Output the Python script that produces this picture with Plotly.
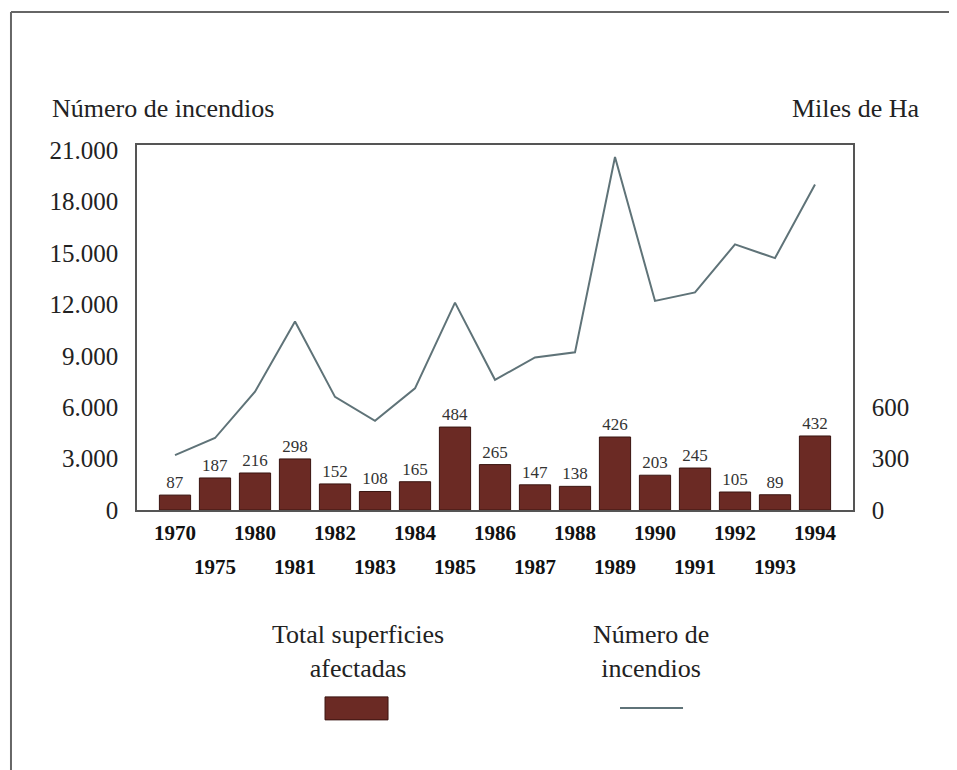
import plotly.graph_objects as go

# Datos
years = ['1970', '1975', '1980', '1981', '1982', '1983', '1984', '1985', '1986',
         '1987', '1988', '1989', '1990', '1991', '1992', '1993', '1994']
superficie = [87, 187, 216, 298, 152, 108, 165, 484, 265, 147, 138, 426, 203, 245, 105, 89, 432]
incendios = [3200, 4200, 6900, 11000, 6600, 5200, 7100, 12100, 7600, 8900, 9200,
             20600, 12200, 12700, 15500, 14700, 19000]
left_ticks = [0, 3000, 6000, 9000, 12000, 15000, 18000, 21000]
right_ticks = [0, 300, 600]

SERIF = 'Liberation Serif'
BAR_COLOR = '#6b2a24'
LINE_COLOR = '#5f7378'
AXIS_COLOR = '#555555'

idx = list(range(len(years)))
even_idx = idx[0::2]
odd_idx = idx[1::2]

fig = go.Figure()

# Barras: superficie afectada (eje y a la derecha)
fig.add_trace(go.Bar(
    x=idx, y=superficie, xaxis='x', yaxis='y',
    marker=dict(color=BAR_COLOR, line=dict(color='#3a1410', width=1)),
    width=0.78,
    text=superficie, textposition='outside',
    textfont=dict(family=SERIF, size=17, color='#333333'),
    cliponaxis=False, showlegend=False,
))

# Línea: número de incendios (eje y2 a la izquierda, eje x2 para la 2a fila de años)
fig.add_trace(go.Scatter(
    x=idx, y=incendios, xaxis='x2', yaxis='y2',
    mode='lines', line=dict(color=LINE_COLOR, width=2),
    showlegend=False,
))

x_range = [-0.95, len(years) - 1 + 0.95]
tick_font = dict(family=SERIF, size=21, color='#111111')

fig.update_layout(
    width=957, height=770,
    margin=dict(l=129, r=112, t=137, b=268),
    paper_bgcolor='white', plot_bgcolor='white',
    separators=',.',
    font=dict(family=SERIF, color='#222222'),
    xaxis=dict(
        range=x_range, tickvals=even_idx,
        ticktext=['<b>' + years[i] + '</b>' for i in even_idx],
        tickfont=tick_font,
        ticks='', showgrid=False, zeroline=False,
        showline=True, linecolor=AXIS_COLOR, linewidth=1.5, mirror=True,
        ticklabelstandoff=3,
    ),
    xaxis2=dict(
        range=x_range, overlaying='x', anchor='y2', side='bottom',
        tickvals=odd_idx, ticktext=['<b>' + years[i] + '</b>' for i in odd_idx],
        tickfont=tick_font,
        ticks='', showgrid=False, zeroline=False, showline=False,
        ticklabelstandoff=42,
    ),
    yaxis=dict(
        range=[0, 2130], tickvals=right_ticks, side='right', anchor='x',
        tickfont=dict(family=SERIF, size=25),
        ticks='', showgrid=False, zeroline=False,
        showline=True, linecolor=AXIS_COLOR, linewidth=1.5,
        ticklabelstandoff=12,
    ),
    yaxis2=dict(
        range=[0, 21300], tickvals=left_ticks, tickformat=',d',
        overlaying='y', side='left', anchor='x2',
        tickfont=dict(family=SERIF, size=25),
        ticks='', showgrid=False, zeroline=False,
        showline=True, linecolor=AXIS_COLOR, linewidth=1.5,
        ticklabelstandoff=12,
    ),
)

# Títulos de ejes
fig.add_annotation(text='Número de incendios', xref='paper', yref='paper',
                   x=-0.1215, y=1.101, xanchor='left', yanchor='middle',
                   showarrow=False, font=dict(family=SERIF, size=26))
fig.add_annotation(text='Miles de Ha', xref='paper', yref='paper',
                   x=1.096, y=1.101, xanchor='right', yanchor='middle',
                   showarrow=False, font=dict(family=SERIF, size=26))

# Leyenda manual (texto encima del símbolo)
fig.add_annotation(text='Total superficies<br>afectadas', xref='paper', yref='paper',
                   x=0.3087, y=-0.389, xanchor='center', yanchor='middle',
                   showarrow=False, font=dict(family=SERIF, size=26))
fig.add_annotation(text='Número de<br>incendios', xref='paper', yref='paper',
                   x=0.718, y=-0.389, xanchor='center', yanchor='middle',
                   showarrow=False, font=dict(family=SERIF, size=26))
fig.add_shape(type='rect', xref='paper', yref='paper',
              x0=0.2626, x1=0.3506, y0=-0.575, y1=-0.512,
              fillcolor=BAR_COLOR, line=dict(color='#3a1410', width=1))
fig.add_shape(type='line', xref='paper', yref='paper',
              x0=0.6746, x1=0.7626, y0=-0.5425, y1=-0.5425,
              line=dict(color=LINE_COLOR, width=2))

# Marco exterior (borde superior e izquierdo)
fig.add_shape(type='line', xref='paper', yref='paper',
              x0=-0.176, x1=1.16, y0=1.3644, y1=1.3644,
              line=dict(color='#666666', width=2))
fig.add_shape(type='line', xref='paper', yref='paper',
              x0=-0.176, x1=-0.176, y0=1.3644, y1=-0.74,
              line=dict(color='#666666', width=2))

fig.write_html('out.html')
